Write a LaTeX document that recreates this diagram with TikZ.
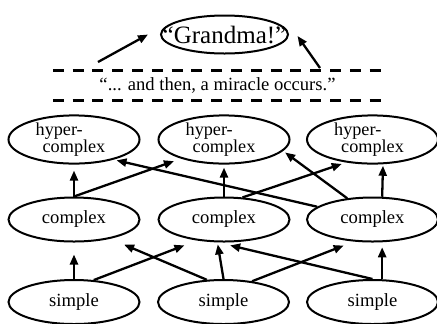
\documentclass[tikz,border=0pt]{standalone}
\usepackage{fontspec}
\setmainfont{Liberation Serif}
\usetikzlibrary{shapes.geometric,arrows.meta}
\tikzset{
  blob/.style={draw,ellipse,line width=2bp,minimum width=131bp,minimum height=44bp,
    inner sep=0pt,font=\fontsize{18.6bp}{20bp}\selectfont},
  hyperblob/.style={blob,align=left,font=\fontsize{18.2bp}{16.5bp}\selectfont},
  lift/.style={line width=2.3bp,-{Triangle[length=10bp,width=8bp]}},
  bar/.style={line width=3bp,dash pattern=on 11bp off 8.8bp}
}
\begin{document}
\begin{tikzpicture}[x=1bp,y=-1bp]
\useasboundingbox (0,0) rectangle (437,323);
% the wish and the wall of text
\node[blob,minimum width=127bp,minimum height=38bp,
  label={[font=\fontsize{25bp}{26bp}\selectfont]center:“Grandma!”}] (grandma) at (224.5,34.5) {};
\node[font=\fontsize{18.6bp}{20bp}\selectfont,minimum width=329bp,minimum height=29bp,inner sep=0pt]
  (miracle) at (217.5,85.5) {“... and then, a miracle occurs.”};
\draw[bar] (miracle.north west) -- (miracle.north east);
\draw[bar] (miracle.south west) -- (miracle.south east);
\coordinate (wishL) at (98,62);
\coordinate (wishR) at (320,68);
\draw[lift] (wishL) -- ([xshift=-12bp]grandma.west);
\draw[lift] (wishR) -- ([xshift=8.5bp,yshift=-1.5bp]grandma.east);
% three rows
\node[hyperblob] (hL) at (74,139.5) {\hspace*{-7bp}hyper-\\complex};
\node[hyperblob] (hM) at (224,139.5) {\hspace*{-7bp}hyper-\\complex};
\node[hyperblob] (hR) at (372.5,139.5) {\hspace*{-7bp}hyper-\\complex};
\node[blob] (cL) at (74,219.5) {complex};
\node[blob] (cM) at (224,219.5) {complex};
\node[blob] (cR) at (372.5,219.5) {complex};
\node[blob] (sL) at (74,302) {simple};
\node[blob] (sM) at (223.5,302) {simple};
\node[blob] (sR) at (372.5,302) {simple};
% complex -> hyper-complex
\draw[lift,shorten >=6bp] (cL.north) -- (hL.south);
\draw[lift,shorten >=7.5bp] (cL.north) -- (hM.204);
\draw[lift,shorten >=3bp] (cM.north) -- (hM.south);
\draw[lift,shorten >=4.5bp] (cM.50) -- (hR.221);
\draw[lift,shorten >=3bp] (cR.167) -- (hL.333);
\draw[lift,shorten >=2.5bp] (cR.140) -- (hM.349);
\draw[lift,shorten >=1.5bp] (cR.67) -- (hR.293);
% simple -> complex
\draw[lift,shorten >=12bp] (sL.north) -- (cL.south);
\draw[lift,shorten >=13.5bp] (sL.48) -- (cM.218);
\draw[lift,shorten >=15bp] (sM.127) -- (cL.332);
\draw[lift,shorten >=2bp] (sM.north) -- (cM.254);
\draw[lift,shorten >=11bp] (sM.36) -- (cR.230);
\draw[lift,shorten >=13bp] (sR.north) -- (cM.254);
\draw[lift,shorten >=5bp] (sR.67) -- (cR.293);
\end{tikzpicture}
\end{document}
